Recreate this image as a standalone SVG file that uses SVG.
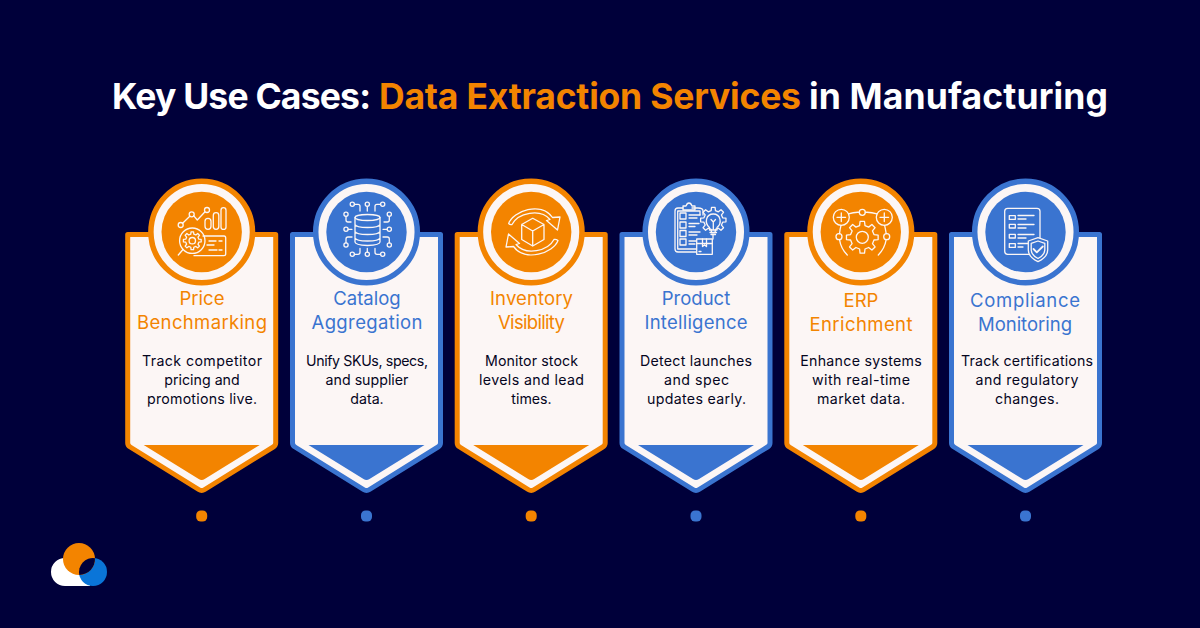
<svg xmlns="http://www.w3.org/2000/svg" width="1200" height="628" viewBox="0 0 1200 628">
<style>
text{font-family:Inter,"Open Sans","Liberation Sans",sans-serif}
.title{font-size:35.5px;font-weight:700;fill:#fff}
.head{font-size:18.5px;font-weight:400;text-anchor:middle;fill:currentColor}
.body{font-size:14.2px;font-weight:400;fill:#05051e;text-anchor:middle}
.o{color:#F38400}
.b{color:#3A74D0}
.shell{fill:#FCF6F5;stroke:currentColor;stroke-width:5;stroke-linejoin:round}
.ring{fill:#FCF6F5;stroke:currentColor;stroke-width:5.5}
.solid{fill:currentColor}
.ic{fill:none;stroke:#FCF6F5;stroke-width:1.3;stroke-linecap:round;stroke-linejoin:round}
</style>
<defs>
<g id="card">
<path class="shell" d="M-74 234.500H74V443Q74 445.500 71.500 447L3 489.500Q0 491.500-3 489.500L-71.500 447Q-74 445.500-74 443Z"/>
<path class="solid" d="M-58 445H58L3 479Q0 481-3 479Z"/>
<circle class="ring" cx="0" cy="232" r="50.800"/>
<circle class="solid" cx="0" cy="232" r="40.200"/>
<rect class="solid" x="-5.500" y="510.500" width="11" height="11" rx="4.600"/>
</g>
<polygon id="gear" vector-effect="non-scaling-stroke" points="11.69,-2.7 15.84,-2.23 15.84,2.23 11.69,2.7 10.18,6.36 12.78,9.63 9.63,12.78 6.36,10.18 2.7,11.69 2.23,15.84 -2.23,15.84 -2.7,11.69 -6.36,10.18 -9.63,12.78 -12.78,9.63 -10.18,6.36 -11.69,2.7 -15.84,2.23 -15.84,-2.23 -11.69,-2.7 -10.18,-6.36 -12.78,-9.63 -9.63,-12.78 -6.36,-10.18 -2.7,-11.69 -2.23,-15.84 2.23,-15.84 2.7,-11.69 6.36,-10.18 9.63,-12.78 12.78,-9.63 10.18,-6.36"/>
</defs>
<rect width="1200" height="628" fill="#00003A"/>
<g id="title">
<text class="title" x="112" y="108.500" textLength="259" lengthAdjust="spacing">Key Use Cases:</text>
<text class="title" x="379" y="108.500" textLength="422" lengthAdjust="spacing" style="fill:#F38400">Data Extraction Services</text>
<text class="title" x="809" y="108.500" textLength="299" lengthAdjust="spacing">in Manufacturing</text>
</g>
<g id="connectors"/>
<g id="node-price" class="o">
<use href="#card" transform="translate(201.700 0)"/>
<text class="head" x="202" y="305">Price</text>
<text class="head" x="202" y="329" textLength="130" lengthAdjust="spacing">Benchmarking</text>
<text class="body" x="202" y="366" textLength="120" lengthAdjust="spacing">Track competitor</text>
<text class="body" x="202" y="385">pricing and</text>
<text class="body" x="202" y="404" textLength="110" lengthAdjust="spacing">promotions live.</text>
<g class="ic">
<path d="M182.600 223.300L189.800 216.200M193.600 215.600L197.300 220L204.800 212"/>
<circle cx="180.700" cy="225" r="2.500"/><circle cx="191.700" cy="214.300" r="2.500"/><circle cx="207" cy="210" r="2.500"/>
<rect x="205" y="218.300" width="6" height="11" rx="3"/><rect x="213.300" y="212.700" width="5.500" height="16.600" rx="2.700"/><rect x="221" y="207.700" width="5" height="21.700" rx="2.500"/>
<circle cx="192.300" cy="240.700" r="12.700"/>
<path d="M183 249.500L178.300 255M203 236H224Q225.700 236 225.700 238V254Q225.700 255.700 224 255.700H194"/>
<path d="M209 241H216M219 241H222M207 245H214M209 250H217M219 250H222"/>
<use href="#gear" transform="translate(192.300 240.700) scale(.56)"/>
<circle cx="192.300" cy="240.700" r="3.200"/>
</g>
</g>
<g id="node-catalog" class="b">
<use href="#card" transform="translate(366.500 0)"/>
<text class="head" x="367" y="305">Catalog</text>
<text class="head" x="367" y="329" textLength="111" lengthAdjust="spacing">Aggregation</text>
<text class="body" x="367" y="366" textLength="122" lengthAdjust="spacing">Unify SKUs, specs,</text>
<text class="body" x="367" y="385">and supplier</text>
<text class="body" x="367" y="404">data.</text>
<g class="ic">
<ellipse cx="367.500" cy="217.500" rx="12.500" ry="3"/>
<path d="M355 217.500V242Q355 245 367.500 245.500Q380 245 380 242V217.500M355 224.500Q356 227.500 367.500 227.500Q379 227.500 380 224.500M355 231.500Q356 234.500 367.500 234.500Q379 234.500 380 231.500M355 238Q356 241 367.500 241Q379 241 380 238"/>
<circle cx="352.300" cy="204.300" r="2.100"/><circle cx="367.300" cy="204.300" r="2.100"/><circle cx="382.700" cy="204.300" r="2.100"/>
<circle cx="346" cy="214.300" r="2.100"/><circle cx="346" cy="229.300" r="2.100"/><circle cx="346" cy="245" r="2.100"/>
<circle cx="389.300" cy="214.300" r="2.100"/><circle cx="389.300" cy="229.300" r="2.100"/><circle cx="389.300" cy="245" r="2.100"/>
<circle cx="352.300" cy="254.300" r="2.100"/><circle cx="367.300" cy="254.300" r="2.100"/><circle cx="382.700" cy="254.300" r="2.100"/>
<path d="M354.400 204.300H358Q360 204.300 360 206.300V211M367.300 206.400V211M380.600 204.300H377Q375 204.300 375 206.300V211"/>
<path d="M346 216.400V220Q346 222 348 222H351M348.100 229.300H352M346 242.900V239Q346 237 348 237H352"/>
<path d="M389.300 216.400V220Q389.300 222 387.300 222H384M387.200 229.300H383M389.300 242.900V239Q389.300 237 387.300 237H383"/>
<path d="M354.400 254.300H358Q360 254.300 360 252.300V248.500M367.300 252.200V248.500M380.600 254.300H377Q375 254.300 375 252.300V248.500"/>
</g>
</g>
<g id="node-inventory" class="o">
<use href="#card" transform="translate(531.200 0)"/>
<text class="head" x="531.500" y="305" textLength="83" lengthAdjust="spacing">Inventory</text>
<text class="head" x="531.500" y="329" textLength="67" lengthAdjust="spacing">Visibility</text>
<text class="body" x="531.500" y="366" textLength="93" lengthAdjust="spacing">Monitor stock</text>
<text class="body" x="531.500" y="385" textLength="105" lengthAdjust="spacing">levels and lead</text>
<text class="body" x="531.500" y="404">times.</text>
<g class="ic">
<path d="M532.700 218.300L544 224.500V239.500L532.700 246L521.700 239.500V224.500ZM521.700 224.500L532.700 231L544 224.500M532.700 231V246"/>
<path d="M508.700 223.500C513 211 541 201 552.500 217.500L560 217L557.500 230L546.500 220.500L550 219.500C540 208 518 213 512 224.500Q510 225 508.700 223.500Z"/>
<path d="M558 240.500C553.500 253 525 262.500 513.500 246.500L506 247L508.500 234L519.500 243.500L516 244.500C526 256 548 251 554 239.500Q556 239 558 240.500Z"/>
</g>
</g>
<g id="node-product" class="b">
<use href="#card" transform="translate(696 0)"/>
<text class="head" x="696" y="305">Product</text>
<text class="head" x="696" y="329" textLength="103" lengthAdjust="spacing">Intelligence</text>
<text class="body" x="696" y="366" textLength="112" lengthAdjust="spacing">Detect launches</text>
<text class="body" x="696.500" y="385" textLength="65" lengthAdjust="spacing">and spec</text>
<text class="body" x="696.500" y="404" textLength="99" lengthAdjust="spacing">updates early.</text>
<g class="ic">
<path d="M696 252H678Q675 252 675 249V211Q675 208 678 208H683M692 208H698Q703 208 703 211V215"/>
<path d="M677.700 211H700V215M677.700 211V249H696"/>
<path d="M683 208V206H686Q687 203 689 203Q691 203 692 206H695V210H683Z"/>
<rect x="680" y="213" width="6" height="6"/><rect x="680" y="222" width="6" height="6"/><rect x="680" y="230.500" width="6" height="6"/><rect x="680" y="239" width="6" height="6"/>
<path d="M689 215H700M689 218H697M689 223.500H699M689 226.500H695M689 232H700M689 235H697M689 241H696M689 244H695"/>
<use href="#gear" transform="translate(713.300 220) scale(.8)" style="fill:#3A74D0"/>
<path d="M709.500 230V227.500C704 223 706 214 713.300 214C720.500 214 722.500 223 717 227.500V230ZM710 232.500H716.500M711 234.500H715.500M713.300 230V222L711 219.500M713.300 222L715.500 219.500"/>
<path d="M713 234.500V239"/>
<rect x="696.700" y="239" width="15.600" height="15.300" style="fill:#3A74D0"/>
<path d="M696.700 243.500H712.300M702.500 239V246.500L704.500 245L706.500 246.500V239M699 251.500H701"/>
</g>
</g>
<g id="node-erp" class="o">
<use href="#card" transform="translate(860.800 0)"/>
<text class="head" x="861" y="307">ERP</text>
<text class="head" x="861" y="331" textLength="103" lengthAdjust="spacing">Enrichment</text>
<text class="body" x="861" y="366" textLength="121.500" lengthAdjust="spacing">Enhance systems</text>
<text class="body" x="861" y="385" textLength="98" lengthAdjust="spacing">with real-time</text>
<text class="body" x="861" y="404" textLength="88" lengthAdjust="spacing">market data.</text>
<g class="ic">
<use href="#gear" transform="translate(862.300 237.300)"/>
<circle cx="862.300" cy="237.300" r="6"/>
<circle cx="841.300" cy="217.300" r="8"/><circle cx="884.300" cy="217.300" r="8"/>
<path d="M841.300 213V221.600M837 217.300H845.600M884.300 213V221.600M880 217.300H888.600"/>
<circle cx="862.300" cy="212.300" r="3"/><circle cx="839" cy="236.700" r="3"/><circle cx="886.700" cy="236.700" r="3"/>
<path d="M848.500 213.800Q854 212 859.300 212.300M865.300 212.300Q871 212 877 213.800M841 225.300Q840 229 839.500 233.700M884.600 225.300Q885.500 229 886.200 233.700M839.500 239.700Q841 249 847.300 255M886.200 239.700Q884.500 249 878.300 255"/>
</g>
</g>
<g id="node-compliance" class="b">
<use href="#card" transform="translate(1025.500 0)"/>
<text class="head" x="1025" y="307" textLength="110" lengthAdjust="spacing">Compliance</text>
<text class="head" x="1025" y="331" textLength="94" lengthAdjust="spacing">Monitoring</text>
<text class="body" x="1027" y="366" textLength="132" lengthAdjust="spacing">Track certifications</text>
<text class="body" x="1027" y="385" textLength="103" lengthAdjust="spacing">and regulatory</text>
<text class="body" x="1027" y="404" textLength="64" lengthAdjust="spacing">changes.</text>
<g class="ic">
<rect x="1004.700" y="208.300" width="35.300" height="46" rx="3"/>
<rect x="1009.300" y="215.700" width="6" height="3.700"/><rect x="1009.300" y="224.300" width="6" height="3.700"/><rect x="1009.300" y="234.300" width="6" height="3.700"/><rect x="1009.300" y="243.700" width="6" height="3.700"/>
<path d="M1018 215.500H1034M1018 219H1026M1018 224.500H1034M1018 228H1026M1018 234.500H1034M1018 238H1026M1018 243.500H1030M1018 247H1023"/>
<path d="M1038 237.700L1047.700 241V250Q1047.700 257 1038 261.700Q1028.300 257 1028.300 250V241Z" style="fill:#3A74D0"/>
<path d="M1038 241L1044.800 243.400V250Q1044.800 255 1038 258.500Q1031.200 255 1031.200 250V243.400Z"/>
<path d="M1033.500 249L1036.800 252.300L1042.800 246.500" stroke-width="1.800"/>
</g>
</g>
<g id="logo">
<path d="M63 558H90V586H65A14 14 0 0 1 65 558Z" fill="#fff"/>
<circle cx="93" cy="572" r="14" fill="#0A75D8"/>
<circle cx="79" cy="559" r="16" fill="#F38400"/>
<path d="M79.340 575A16 16 0 0 0 94.980 558.160A14 14 0 0 0 79.340 575Z" fill="#00003A"/>
</g>
</svg>
